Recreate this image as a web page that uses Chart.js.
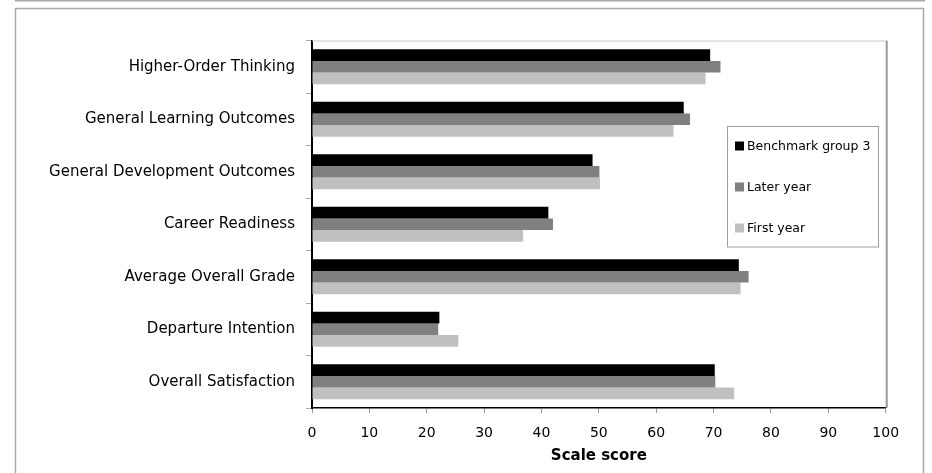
<!DOCTYPE html>
<html>
<head>
<meta charset="utf-8">
<script src="https://cdn.jsdelivr.net/npm/chart.js@4"></script>
<style>
  html, body { margin: 0; padding: 0; background: #fff; }
  #wrap { width: 932px; height: 473px; }
</style>
</head>
<body>
<div id="wrap"><canvas id="myChart" width="932" height="473"></canvas></div>
<script>
// categories, top to bottom
var categories = ["Higher-Order Thinking", "General Learning Outcomes", "General Development Outcomes",
  "Career Readiness", "Average Overall Grade", "Departure Intention", "Overall Satisfaction"];
// series values (scale score)
var benchmark = [69.4, 64.8, 48.9, 41.2, 74.4, 22.2, 70.2];
var laterYear = [71.2, 65.9, 50.1, 42.0, 76.1, 22.0, 70.3];
var firstYear = [68.6, 63.0, 50.2, 36.8, 74.7, 25.5, 73.6];
var seriesNames = ["Benchmark group 3", "Later year", "First year"];
var seriesColors = ["#000000", "#808080", "#c0c0c0"];
var xTicks = [0, 10, 20, 30, 40, 50, 60, 70, 80, 90, 100];

var FONT = "'DejaVu Sans', sans-serif";

// outer frame + plot border + legend box drawn inside the plot
var framePlugin = {
  id: 'frame',
  beforeDraw: function (chart) {
    var c = chart.ctx;
    c.save();
    c.fillStyle = '#fff';
    c.fillRect(0, 0, chart.width, chart.height);
    c.strokeStyle = '#aaaaaa';
    c.lineWidth = 2;
    c.beginPath(); c.moveTo(15, 0.5); c.lineTo(925, 0.5); c.stroke();
    c.lineWidth = 1.5;
    c.strokeRect(15.5, 8.5, 908, 480);
    c.restore();
  },
  afterDraw: function (chart) {
    var c = chart.ctx, a = chart.chartArea;
    c.save();
    // top and right border of plot
    c.strokeStyle = '#c8c8c8';
    c.lineWidth = 1;
    c.beginPath(); c.moveTo(a.left, a.top + 0.5); c.lineTo(a.right, a.top + 0.5); c.stroke();
    c.strokeStyle = '#999999';
    c.lineWidth = 2;
    c.beginPath(); c.moveTo(a.right + 1, a.top); c.lineTo(a.right + 1, a.bottom); c.stroke();
    // legend
    c.fillStyle = '#fff';
    c.fillRect(727.5, 126.5, 151, 120.5);
    c.strokeStyle = '#a0a0a0';
    c.lineWidth = 1;
    c.strokeRect(727.5, 126.5, 151, 120.5);
    c.font = '12.5px ' + FONT;
    c.textBaseline = 'middle';
    chart.data.datasets.forEach(function (ds, i) {
      var y = 146 + i * 41;
      c.fillStyle = ds.backgroundColor;
      c.fillRect(735, y - 4.5, 9, 9);
      c.fillStyle = '#000';
      c.fillText(ds.label, 747, y + 0.5);
    });
    c.restore();
  }
};

var datasets = [benchmark, laterYear, firstYear].map(function (vals, i) {
  return {
    label: seriesNames[i],
    data: vals,
    backgroundColor: seriesColors[i],
    borderWidth: 0,
    categoryPercentage: 0.665,
    barPercentage: 1.0
  };
});

new Chart(document.getElementById("myChart"), {
  type: 'bar',
  data: { labels: categories, datasets: datasets },
  plugins: [framePlugin],
  options: {
    indexAxis: 'y',
    responsive: false,
    animation: false,
    layout: { padding: { top: 40.5, right: 46.3, left: 0, bottom: 0 } },
    plugins: { legend: { display: false }, tooltip: { enabled: false } },
    scales: {
      x: {
        min: 0, max: 100,
        afterBuildTicks: function (s) { s.ticks = xTicks.map(function (v) { return { value: v }; }); },
        afterFit: function (s) { s.height = 65; },
        border: { color: '#000', width: 1.5 },
        grid: { drawOnChartArea: false, tickLength: 5, color: '#999' },
        ticks: { color: '#000', font: { family: FONT, size: 14 }, padding: 12 },
        title: { display: true, text: 'Scale score', color: '#000',
          font: { family: FONT, size: 15, weight: 'bold' }, padding: { top: 0, bottom: 8 } }
      },
      y: {
        afterFit: function (s) { s.width = 312; },
        border: { color: '#000', width: 2 },
        grid: { offset: true, drawOnChartArea: false, tickLength: 6, color: '#aaa' },
        ticks: { color: '#000', font: { family: FONT, size: 15 }, padding: 11 }
      }
    }
  }
});
</script>
</body>
</html>
